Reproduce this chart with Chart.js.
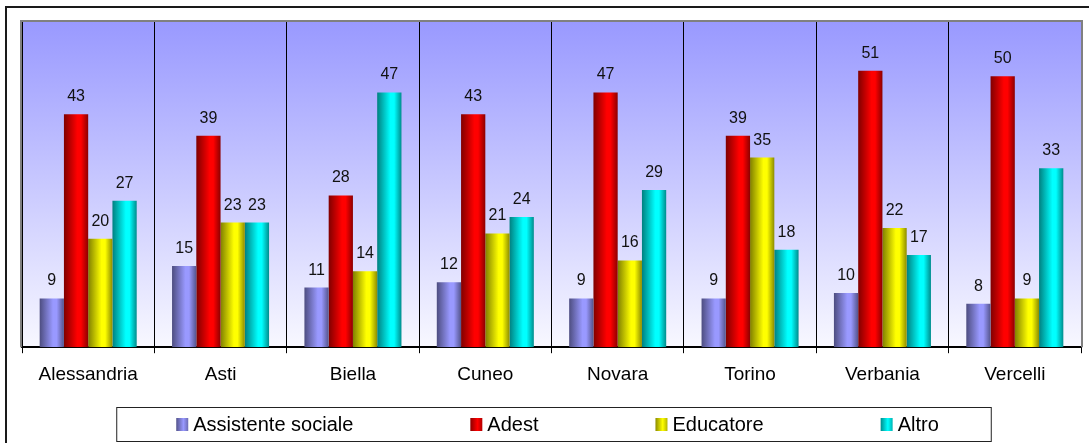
<!DOCTYPE html>
<html>
<head>
<meta charset="utf-8">
<script src="https://cdn.jsdelivr.net/npm/chart.js@4/dist/chart.umd.min.js"></script>
<style>
  html, body { margin: 0; padding: 0; background: #fff; }
  #chart-container { width: 1089px; height: 443px; }
</style>
</head>
<body>
<div id="chart-container"><canvas id="chart" width="1089" height="443"></canvas></div>
<script>
// data
const provinces = ["Alessandria", "Asti", "Biella", "Cuneo", "Novara", "Torino", "Verbania", "Vercelli"];
const seriesNames = ["Assistente sociale", "Adest", "Educatore", "Altro"];
const assistenteSociale = [9, 15, 11, 12, 9, 9, 10, 8];
const adest = [43, 39, 28, 43, 47, 39, 51, 50];
const educatore = [20, 23, 14, 21, 16, 35, 22, 9];
const altro = [27, 23, 47, 24, 29, 18, 17, 33];
const seriesValues = [assistenteSociale, adest, educatore, altro];

const baseColors = [[153, 153, 255], [255, 0, 0], [255, 255, 0], [0, 255, 255]];
const CAT_PCT = 0.733;
const FONT = "'Liberation Sans', Arial, sans-serif";

function rgb(c, k) {
  k = k || 1;
  return "rgb(" + Math.round(c[0] * k) + "," + Math.round(c[1] * k) + "," + Math.round(c[2] * k) + ")";
}

// cylinder-ish shading across each bar, placed from the category scale
function barFill(ctx) {
  const base = baseColors[ctx.datasetIndex];
  if (ctx.type !== "data") return rgb(base);
  const chart = ctx.chart;
  const xs = chart.scales.x;
  if (!xs || !(xs.width > 0)) return rgb(base);
  const catW = xs.width / provinces.length;
  const barW = catW * CAT_PCT / seriesNames.length;
  const left = xs.getPixelForValue(ctx.dataIndex) - catW * CAT_PCT / 2 + ctx.datasetIndex * barW;
  if (!isFinite(left)) return rgb(base);
  const g = chart.ctx.createLinearGradient(left, 0, left + barW, 0);
  g.addColorStop(0, rgb(base, 0.5));
  g.addColorStop(0.55, rgb(base, 1));
  g.addColorStop(0.7, rgb(base, 1));
  g.addColorStop(1, rgb(base, 0.55));
  return g;
}

function legendFill(c, chartCtx, x, w) {
  const g = chartCtx.createLinearGradient(x, 0, x + w, 0);
  g.addColorStop(0, rgb(c, 0.55));
  g.addColorStop(0.6, rgb(c, 1));
  g.addColorStop(1, rgb(c, 0.7));
  return g;
}

const frame = {
  id: "frame",
  beforeDraw(chart) {
    const c = chart.ctx, a = chart.chartArea;
    c.save();
    // outer frame
    c.strokeStyle = "#1a1a1a";
    c.lineWidth = 2;
    c.beginPath();
    c.moveTo(6, chart.height + 5);
    c.lineTo(6, 7);
    c.lineTo(chart.width + 5, 7);
    c.stroke();
    // plot background
    const g = c.createLinearGradient(0, a.top, 0, a.bottom);
    g.addColorStop(0, "#9999ff");
    g.addColorStop(1, "#f8f8ff");
    c.fillStyle = g;
    c.fillRect(a.left, a.top, a.right - a.left, a.bottom - a.top);
    c.restore();
  },
  afterDatasetsDraw(chart) {
    const c = chart.ctx, a = chart.chartArea;
    c.save();
    // value labels
    c.font = "16px " + FONT;
    c.fillStyle = "#111";
    c.textAlign = "center";
    c.textBaseline = "alphabetic";
    chart.data.datasets.forEach((ds, di) => {
      chart.getDatasetMeta(di).data.forEach((bar, i) => {
        c.fillText(String(ds.data[i]), bar.x, bar.y - 13);
      });
    });
    // grey plot border (left, top, right)
    c.strokeStyle = "#808080";
    c.lineWidth = 2;
    c.beginPath();
    c.moveTo(a.left - 1, a.bottom);
    c.lineTo(a.left - 1, a.top - 1);
    c.lineTo(a.right + 1, a.top - 1);
    c.lineTo(a.right + 1, a.bottom);
    c.stroke();
    c.restore();
  },
  afterDraw(chart) {
    const c = chart.ctx, a = chart.chartArea;
    c.save();
    c.font = "20px " + FONT;
    const box = 12, gapText = 5, gapItem = 117;
    const widths = seriesNames.map(n => box + gapText + c.measureText(n).width);
    const total = widths.reduce((s, w) => s + w, 0) + gapItem * (seriesNames.length - 1);
    let x = (a.left + a.right) / 2 + 6 - total / 2;
    const top = chart.height - 36, bottom = chart.height - 2;
    const mid = (top + bottom) / 2;
    // legend box
    c.fillStyle = "#fff";
    c.fillRect(x - 60, top, total + 112, bottom - top);
    c.strokeStyle = "#222";
    c.lineWidth = 1;
    c.strokeRect(x - 60 + 0.5, top + 0.5, total + 112, bottom - top);
    c.textBaseline = "middle";
    c.textAlign = "left";
    seriesNames.forEach((n, i) => {
      c.fillStyle = legendFill(baseColors[i], c, x, box);
      c.fillRect(x, mid - 6, box, 13);
      c.fillStyle = "#000";
      c.fillText(n, x + box + gapText, mid + 1);
      x += widths[i] + gapItem;
    });
    c.restore();
  }
};

new Chart(document.getElementById("chart"), {
  type: "bar",
  data: {
    labels: provinces,
    datasets: seriesNames.map((name, i) => ({
      label: name,
      data: seriesValues[i],
      backgroundColor: barFill,
      borderWidth: 0,
      barPercentage: 1,
      categoryPercentage: CAT_PCT
    }))
  },
  options: {
    responsive: false,
    animation: false,
    events: [],
    layout: { padding: { left: 22, top: 22, right: 8, bottom: 47 } },
    plugins: {
      legend: { display: false },
      tooltip: { enabled: false }
    },
    scales: {
      x: {
        offset: true,
        grid: { offset: true, color: "#000", lineWidth: 1, tickLength: 6, tickColor: "#000" },
        border: { color: "#000", width: 2 },
        ticks: { color: "#000", font: { family: FONT, size: 19 }, padding: 10, maxRotation: 0 }
      },
      y: {
        display: false,
        min: 0,
        max: 60
      }
    }
  },
  plugins: [frame]
});
</script>
</body>
</html>
